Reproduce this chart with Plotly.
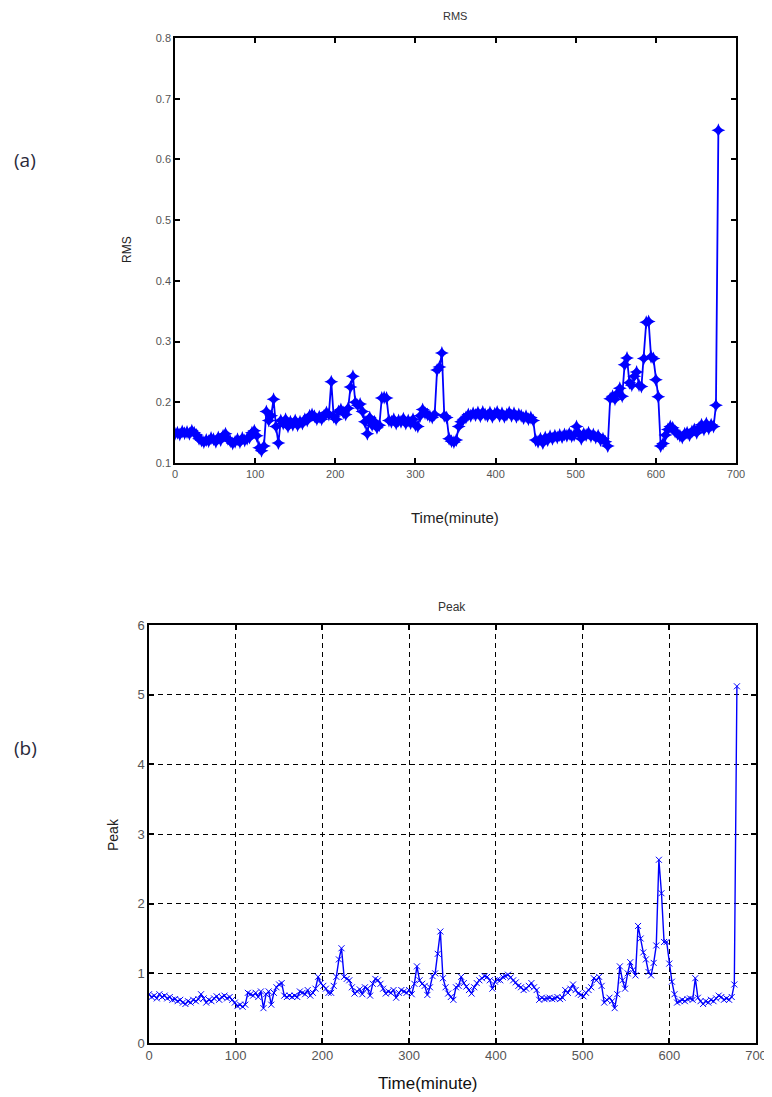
import plotly.graph_objects as go

# ---------------- data ----------------
time_min = list(range(0, 679, 3))

rms = [
    0.148, 0.150, 0.147, 0.152, 0.149, 0.151, 0.148, 0.153, 0.150, 0.146,
    0.140, 0.137, 0.134, 0.138, 0.136, 0.141, 0.139, 0.135, 0.142, 0.138,
    0.145, 0.148, 0.140, 0.136, 0.132, 0.135, 0.139, 0.134, 0.141, 0.137,
    0.140, 0.142, 0.150, 0.153, 0.145, 0.125, 0.120, 0.128, 0.185, 0.170,
    0.178, 0.205, 0.160, 0.133, 0.170, 0.165, 0.172, 0.160, 0.168, 0.163,
    0.170, 0.162, 0.168, 0.165, 0.172, 0.170, 0.178, 0.180, 0.177, 0.172,
    0.176, 0.172, 0.178, 0.183, 0.180, 0.234, 0.176, 0.172, 0.185, 0.188,
    0.183, 0.180, 0.190, 0.225, 0.243, 0.200, 0.195, 0.197, 0.185, 0.168,
    0.148, 0.175, 0.162, 0.168, 0.158, 0.162, 0.207, 0.208, 0.207, 0.170,
    0.168, 0.172, 0.165, 0.170, 0.168, 0.173, 0.165, 0.170, 0.166, 0.172,
    0.162, 0.160, 0.178, 0.188, 0.182, 0.180, 0.177, 0.175, 0.180, 0.253,
    0.258, 0.281, 0.178, 0.175, 0.140, 0.136, 0.134, 0.138, 0.160, 0.168,
    0.172, 0.175, 0.180, 0.178, 0.182, 0.179, 0.183, 0.177, 0.184, 0.180,
    0.178, 0.183, 0.176, 0.181, 0.184, 0.178, 0.182, 0.176, 0.180, 0.183,
    0.178, 0.182, 0.176, 0.180, 0.178, 0.174, 0.177, 0.172, 0.175, 0.170,
    0.138, 0.135, 0.140, 0.133, 0.142, 0.138, 0.144, 0.140, 0.145, 0.142,
    0.146, 0.143, 0.147, 0.145, 0.148, 0.144, 0.146, 0.160, 0.149, 0.140,
    0.148, 0.146, 0.150, 0.144, 0.147, 0.142, 0.145, 0.138, 0.140, 0.135,
    0.128, 0.206, 0.210, 0.205, 0.215, 0.223, 0.210, 0.262, 0.273, 0.232,
    0.228, 0.243, 0.250, 0.228, 0.226, 0.272, 0.332, 0.333, 0.275, 0.272,
    0.237, 0.209, 0.128, 0.132, 0.146, 0.155, 0.160, 0.158, 0.152, 0.148,
    0.145, 0.142, 0.148, 0.150, 0.146, 0.152, 0.155, 0.150, 0.158, 0.163,
    0.155, 0.165, 0.157, 0.163, 0.160, 0.195, 0.648,
]

peak = [
    0.70, 0.66, 0.68, 0.64, 0.70, 0.66, 0.68, 0.64, 0.66, 0.62,
    0.63, 0.60, 0.62, 0.58, 0.56, 0.60, 0.58, 0.62, 0.60, 0.63,
    0.70, 0.64, 0.58, 0.62, 0.60, 0.64, 0.67, 0.62, 0.66, 0.68,
    0.64, 0.66, 0.62, 0.58, 0.53, 0.55, 0.52, 0.55, 0.72, 0.70,
    0.68, 0.72, 0.66, 0.74, 0.50, 0.70, 0.74, 0.55, 0.72, 0.80,
    0.84, 0.86, 0.68, 0.66, 0.68, 0.66, 0.68, 0.66, 0.74, 0.72,
    0.70, 0.76, 0.68, 0.72, 0.78, 0.95, 0.86, 0.82, 0.78, 0.72,
    0.72, 0.82, 0.95, 1.20, 1.36, 0.95, 0.92, 0.90, 0.80, 0.71,
    0.74, 0.77, 0.70, 0.80, 0.78, 0.68, 0.85, 0.92, 0.90, 0.85,
    0.78, 0.71, 0.74, 0.72, 0.76, 0.65, 0.72, 0.76, 0.74, 0.72,
    0.76, 0.70, 0.85, 1.10, 0.90, 0.85, 0.82, 0.69, 0.80, 0.96,
    1.00, 1.28, 1.60, 0.93, 0.80, 0.71, 0.66, 0.62, 0.80, 0.82,
    0.95, 0.86, 0.81, 0.76, 0.71, 0.80, 0.86, 0.90, 0.93, 0.96,
    0.95, 0.90, 0.78, 0.88, 0.91, 0.90, 0.95, 0.96, 0.98, 0.94,
    0.90, 0.87, 0.82, 0.80, 0.76, 0.78, 0.82, 0.86, 0.80, 0.76,
    0.62, 0.65, 0.63, 0.64, 0.65, 0.63, 0.64, 0.66, 0.63, 0.65,
    0.76, 0.72, 0.78, 0.84, 0.76, 0.71, 0.69, 0.67, 0.72, 0.76,
    0.80, 0.93, 0.90, 0.95, 0.82, 0.58, 0.62, 0.65, 0.60, 0.50,
    0.70, 1.10, 0.90, 0.78, 1.00, 1.16, 1.05, 0.97, 1.68, 1.50,
    1.30, 1.20, 1.02, 0.97, 1.15, 1.40, 2.63, 2.15, 1.45, 1.45,
    1.14, 0.88, 0.70, 0.58, 0.60, 0.62, 0.60, 0.63, 0.64, 0.62,
    0.93, 0.65, 0.60, 0.56, 0.60, 0.58, 0.62, 0.60, 0.64, 0.68,
    0.66, 0.62, 0.64, 0.62, 0.66, 0.84, 5.12,
]

x_ticks = [0, 100, 200, 300, 400, 500, 600, 700]
rms_ticks = [0.1, 0.2, 0.3, 0.4, 0.5, 0.6, 0.7, 0.8]
rms_tick_text = ["0.1", "0.2", "0.3", "0.4", "0.5", "0.6", "0.7", "0.8"]
peak_ticks = [0, 1, 2, 3, 4, 5, 6]

# page body has an 8px default margin, so the figure is offset by 8px
OFF = 8
PAGE_W, PAGE_H = 772, 1097
W, H = PAGE_W - OFF, PAGE_H - OFF
FONT = "Liberation Sans, Arial, sans-serif"
BLUE = "#0000FF"
TICKCOL = "#555555"


def px_x(p):
    return (p - OFF) / W


def px_y(p):
    return 1 - (p - OFF) / H


fig = go.Figure()

fig.add_trace(go.Scatter(
    x=time_min, y=rms, mode="lines+markers",
    line=dict(color=BLUE, width=1.8),
    marker=dict(symbol="star-diamond", size=10, color=BLUE, line=dict(width=0)),
    xaxis="x", yaxis="y", showlegend=False,
))

fig.add_trace(go.Scatter(
    x=time_min, y=peak, mode="lines+markers",
    line=dict(color=BLUE, width=1.4),
    marker=dict(symbol="x-thin-open", size=6, color=BLUE, line=dict(width=1, color=BLUE)),
    xaxis="x2", yaxis="y2", showlegend=False,
))

axis_common = dict(
    showline=True, linecolor="black", linewidth=1.5, mirror="ticks",
    ticks="inside", ticklen=5, tickwidth=1.5, tickcolor="black",
    zeroline=False, automargin=False,
)

fig.update_layout(
    template="none",
    width=W, height=H,
    paper_bgcolor="white", plot_bgcolor="white",
    margin=dict(l=0, r=0, t=0, b=0, autoexpand=False),
    xaxis=dict(
        domain=[px_x(175), px_x(736)], anchor="y",
        range=[0, 700], tickvals=x_ticks, showgrid=False,
        tickfont=dict(family=FONT, size=11, color=TICKCOL),
        **axis_common,
    ),
    yaxis=dict(
        domain=[px_y(463), px_y(38)], anchor="x",
        range=[0.1, 0.8], tickvals=rms_ticks, ticktext=rms_tick_text, showgrid=False,
        tickfont=dict(family=FONT, size=11, color=TICKCOL),
        **axis_common,
    ),
    xaxis2=dict(
        domain=[px_x(149), px_x(756)], anchor="y2",
        range=[0, 700], tickvals=x_ticks,
        showgrid=True, gridcolor="black", griddash="5px,4px", gridwidth=1.3,
        tickfont=dict(family=FONT, size=13, color=TICKCOL),
        **axis_common,
    ),
    yaxis2=dict(
        domain=[px_y(1043), px_y(625)], anchor="x2",
        range=[0, 6], tickvals=peak_ticks,
        showgrid=True, gridcolor="black", griddash="5px,4px", gridwidth=1.3,
        tickfont=dict(family=FONT, size=13, color=TICKCOL),
        **axis_common,
    ),
)

labels = [
    # text, page x, page y, size, colour, angle, family
    ("RMS", 455, 16, 11, "#333333", 0, FONT),
    ("Time(minute)", 455, 517, 15, "#222222", 0, FONT),
    ("RMS", 127, 250, 12, "#222222", -90, FONT),
    ("Peak", 452, 607, 12, "#333333", 0, FONT),
    ("Time(minute)", 428, 1083, 17, "#111111", 0, FONT),
    ("Peak", 113, 835, 14, "#222222", -90, FONT),
    ("(a)", 25, 160, 19, "#2a2a3a", 0, "Open Sans, sans-serif"),
    ("(b)", 25, 748, 19, "#2a2a3a", 0, "Open Sans, sans-serif"),
]
for text, lx, ly, size, col, ang, fam in labels:
    fig.add_annotation(
        text=text, x=px_x(lx), y=px_y(ly), xref="paper", yref="paper",
        xanchor="center", yanchor="middle", textangle=ang, showarrow=False,
        font=dict(family=fam, size=size, color=col),
    )

fig.write_html("out.html")
